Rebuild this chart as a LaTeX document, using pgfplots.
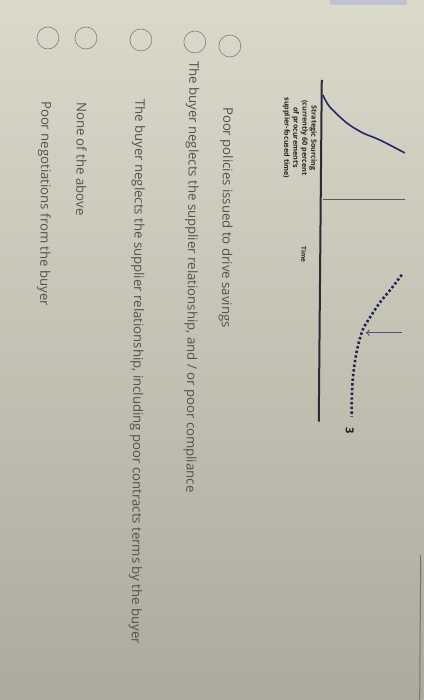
\documentclass[border=0pt]{standalone}
\usepackage{pgfplots}
\pgfplotsset{compat=1.18}
\usepackage{fontspec}
\setmainfont{Open Sans}
\usetikzlibrary{arrows.meta}
\definecolor{txt}{RGB}{82,82,78}
\definecolor{circ}{RGB}{128,126,118}
\definecolor{axline}{RGB}{42,42,56}
\definecolor{curveblue}{RGB}{38,38,104}
\definecolor{dotblue}{RGB}{32,34,92}
\definecolor{arrowc}{RGB}{78,80,110}
\definecolor{bgtop}{RGB}{218,217,202}
\definecolor{bgmid}{RGB}{204,201,178}
\definecolor{bgbot}{RGB}{172,170,156}
\begin{document}
\begin{tikzpicture}
\begin{axis}[
  width=424pt, height=700pt, scale only axis,
  xmin=0, xmax=424, ymin=0, ymax=700, y dir=reverse,
  ticks=none, axis line style={draw=none},
  axis background/.style={top color=bgtop, middle color=bgmid, bottom color=bgbot},
  clip=false,
]
% screen edge and top UI strip
\addplot[draw=none, fill=blue!25!gray!45, opacity=0.7] coordinates {(330,0) (407,0) (407,5) (330,5) (330,0)};
\addplot[draw=black!55, line width=1pt] coordinates {(421,555) (420,700)};
% radio buttons
\addplot[only marks, mark=o, mark size=11, mark options={draw=circ, line width=0.6pt}]
  coordinates {(230,46) (195,42) (141,40) (86,38) (48,38)};
% chart: time axis
\addplot[draw=axline, line width=2pt] coordinates {(322,80) (319,422)};
% strategic sourcing curve
\addplot[smooth, draw=curveblue, line width=1.6pt]
  coordinates {(323,95) (330,107) (347,123) (363,133) (380,140) (405,153)};
% thin marker line
\addplot[draw=black!65, line width=0.8pt] coordinates {(323,200) (405,200)};
% dotted curve
\addplot[smooth, draw=dotblue, line width=2.6pt, dash pattern=on 2.4pt off 2.3pt]
  coordinates {(402,275) (393,287) (380,303) (370,318) (363,330) (358,347) (355,363) (353,380) (352,400) (352,417)};
% arrow
\addplot[draw=arrowc, line width=0.8pt, -{To[length=4pt,width=7pt]}] coordinates {(402,333) (366,333)};
% chart texts
\node[rotate=-90.4, align=center, font=\bfseries\fontsize{7.2}{9}\selectfont, text=black!85, inner sep=0]
  at (axis cs:300,138) {Strategic Sourcing\\(currently 60 percent\\of procurement's\\supplier-focused time)};
\node[rotate=-90.4, font=\bfseries\fontsize{6.5}{8}\selectfont, text=black!85, inner sep=0] at (axis cs:304,255) {Time};
\node[rotate=-90.4, font=\bfseries\fontsize{11}{13}\selectfont, text=black!90, inner sep=0] at (axis cs:350,431) {3};
% options
\begin{scope}[every node/.style={rotate=-90.4, anchor=west, inner sep=0, text=txt, font=\fontsize{13.2}{15}\selectfont}]
\node at (axis cs:227,107) {Poor policies issued to drive savings};
\node at (axis cs:193,61) {The buyer neglects the supplier relationship, and / or poor compliance};
\node at (axis cs:139,99) {The buyer neglects the supplier relationship, including poor contracts terms by the buyer};
\node at (axis cs:82,102) {None of the above};
\node at (axis cs:45,101) {Poor negotiations from the buyer};
\end{scope}
\end{axis}
\end{tikzpicture}
\end{document}
